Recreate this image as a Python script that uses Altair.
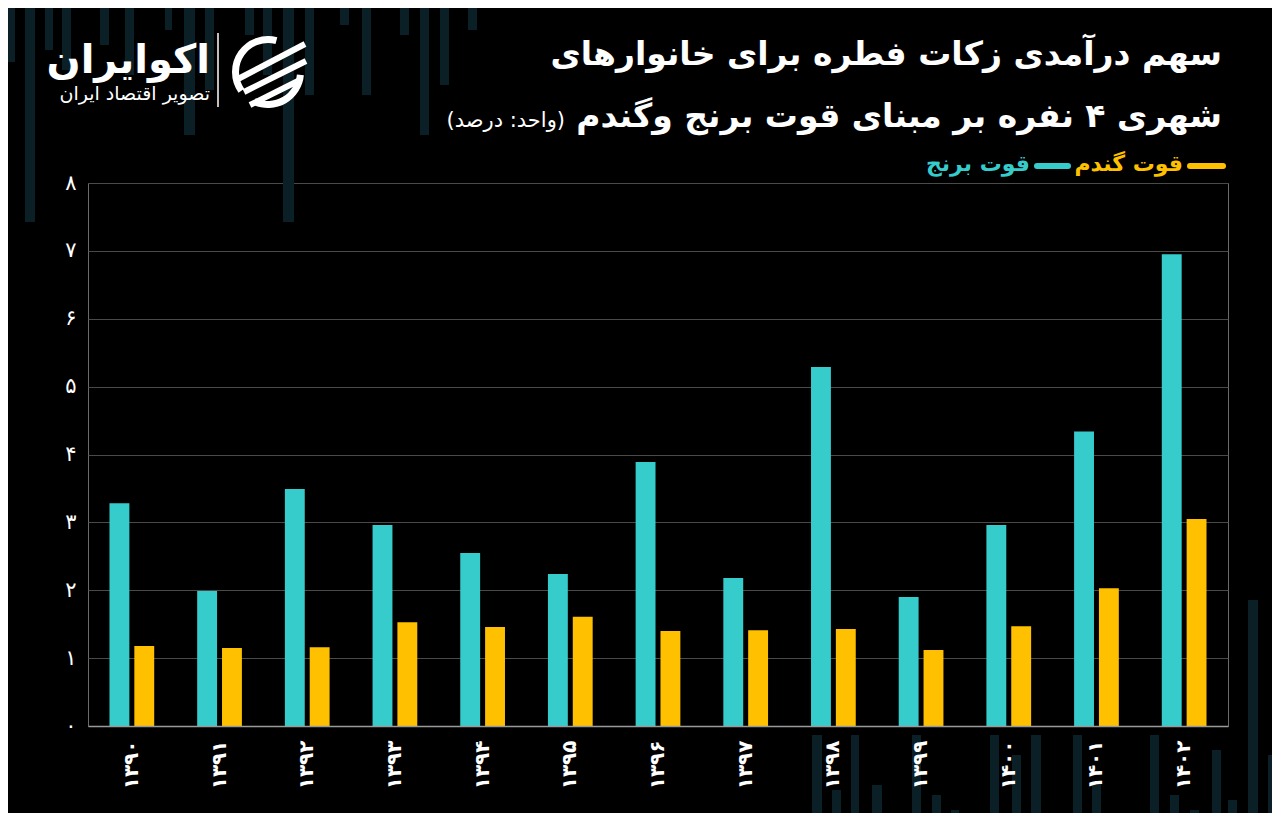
import altair as alt
import pandas as pd
import math

# ---- data ----
years = ["۱۳۹۰", "۱۳۹۱", "۱۳۹۲", "۱۳۹۳", "۱۳۹۴", "۱۳۹۵", "۱۳۹۶",
         "۱۳۹۷", "۱۳۹۸", "۱۳۹۹", "۱۴۰۰", "۱۴۰۱", "۱۴۰۲"]
rice = [3.28, 1.99, 3.49, 2.96, 2.55, 2.24, 3.89, 2.18, 5.29, 1.90, 2.96, 4.34, 6.95]
wheat = [1.18, 1.15, 1.16, 1.53, 1.46, 1.61, 1.40, 1.41, 1.43, 1.12, 1.47, 2.03, 3.05]
series_names = ["قوت برنج", "قوت گندم"]
y_tick_labels = ["۰", "۱", "۲", "۳", "۴", "۵", "۶", "۷", "۸"]

title_line1 = "سهم  درآمدی زکات فطره برای خانوارهای"
title_line2 = "شهری ۴ نفره بر مبنای قوت برنج وگندم"
unit_text = "(واحد: درصد)"
logo_main = "اکوایران"
logo_sub = "تصویر اقتصاد ایران"

TEAL = "#36CCCC"
GOLD = "#FFC000"
STRIPE = "#0a1f26"
FONT = "DejaVu Sans"

rows = []
for i, yr in enumerate(years):
    rows.append({"year": yr, "series": series_names[0], "value": rice[i]})
    rows.append({"year": yr, "series": series_names[1], "value": wheat[i]})
df = pd.DataFrame(rows)

label_expr = "[" + ",".join("'%s'" % s for s in y_tick_labels) + "][datum.value]"

bars = alt.Chart(df).mark_bar().encode(
    x=alt.X("year:N", sort=years,
            scale=alt.Scale(paddingInner=0.49, paddingOuter=0.245),
            axis=alt.Axis(title=None, labelAngle=270, labelFontSize=20, labelColor="white",
                          labelFont=FONT, labelFontWeight="bold", ticks=False,
                          labelPadding=14, domainColor="#9a9a9a", domainWidth=1.5,
                          zindex=1)),
    xOffset=alt.XOffset("series:N", sort=series_names, scale=alt.Scale(paddingInner=0.2)),
    y=alt.Y("value:Q", scale=alt.Scale(domain=[0, 8]),
            axis=alt.Axis(title=None, values=list(range(9)), labelExpr=label_expr,
                          labelFontSize=21, labelColor="white", labelFont=FONT,
                          ticks=False, labelPadding=12, domain=False,
                          gridColor="#4a4a4a", gridWidth=1)),
    color=alt.Color("series:N", scale=alt.Scale(domain=series_names, range=[TEAL, GOLD]),
                    legend=None),
)


def text_layer(txt, x, y, size, color="white", weight="bold", align="right"):
    return alt.Chart(pd.DataFrame({"t": [txt]})).mark_text(
        align=align, baseline="middle", fontSize=size, fontWeight=weight,
        font=FONT, color=color
    ).encode(text="t:N", x=alt.value(x), y=alt.value(y))


def rule_layer(x1, x2, y1, y2, color, width, cap="butt"):
    return alt.Chart(pd.DataFrame({"a": [0]})).mark_rule(
        color=color, strokeWidth=width, strokeCap=cap
    ).encode(x=alt.value(x1), x2=alt.value(x2), y=alt.value(y1), y2=alt.value(y2))


def arc_layer(cx, cy, r1, r2, t1, t2):
    return alt.Chart(pd.DataFrame({"a": [0]})).mark_arc(
        radius=r1, radius2=r2, theta=t1, theta2=t2, color="white"
    ).encode(x=alt.value(cx), y=alt.value(cy))


def stripe(px, w, py1, py2):
    # decorative background stripe, page coordinates converted to plot coordinates
    return alt.Chart(pd.DataFrame({"a": [0]})).mark_rect(color=STRIPE).encode(
        x=alt.value(px - 88), x2=alt.value(px - 88 + w),
        y=alt.value(py1 - 183), y2=alt.value(py2 - 183))


stripes_top = [(8, 7, 0, 62), (25, 10, 0, 222), (45, 8, 0, 50), (62, 9, 0, 70),
               (100, 9, 0, 45), (125, 9, 0, 75), (165, 7, 0, 30), (184, 11, 0, 135),
               (205, 9, 0, 90), (245, 9, 0, 35), (263, 9, 0, 75), (283, 11, 0, 222),
               (305, 9, 0, 95), (340, 9, 0, 25), (362, 9, 0, 95), (400, 9, 0, 35),
               (420, 9, 0, 135), (440, 9, 0, 85), (468, 9, 0, 30)]
stripes_bottom = [(812, 10, 735, 821), (832, 9, 790, 821), (851, 8, 735, 821),
                  (872, 10, 785, 821), (912, 9, 735, 821), (932, 9, 795, 821),
                  (951, 8, 810, 821), (990, 9, 735, 821), (1012, 9, 755, 821),
                  (1031, 10, 735, 821), (1073, 9, 735, 821), (1092, 9, 785, 821),
                  (1150, 9, 735, 821), (1170, 9, 795, 821), (1190, 9, 810, 821),
                  (1212, 9, 750, 821), (1228, 9, 800, 821), (1248, 10, 600, 821),
                  (1268, 10, 755, 821)]

layers = [stripe(*s) for s in stripes_top + stripes_bottom]
layers += [
    bars,
    text_layer(title_line1, 1134, -128, 33),
    text_layer(title_line2, 1134, -66, 33),
    text_layer(unit_text, 477, -62, 21, weight="normal"),
    # legend
    rule_layer(1102, 1135, -17, -17, GOLD, 6, "round"),
    text_layer(series_names[1], 1095, -19, 22, color=GOLD),
    rule_layer(949, 980, -17, -17, TEAL, 6, "round"),
    text_layer(series_names[0], 942, -19, 22, color=TEAL),
    # logo
    text_layer(logo_main, 122, -122, 40),
    text_layer(logo_sub, 122, -89, 19, weight="normal"),
    rule_layer(130, 130, -150, -76, "white", 1.5),
    arc_layer(180, -111, 36, 29, math.radians(235), math.radians(375)),
    arc_layer(180, -111, 36, 29, math.radians(95), math.radians(205)),
    rule_layer(150, 217, -104, -139, "white", 6),
    rule_layer(156, 218, -91, -122, "white", 6),
    rule_layer(162, 212, -78, -103, "white", 6),
]

chart = alt.layer(*layers).properties(
    width=1140, height=543,
    padding={"left": 80, "top": 175, "right": 44, "bottom": 87},
    autosize=alt.AutoSizeParams(type="none"),
    background="#000000",
).configure_view(stroke="#6a6a6a", strokeWidth=1)

chart.save("out.html", embed_options={"renderer": "svg", "actions": False})
